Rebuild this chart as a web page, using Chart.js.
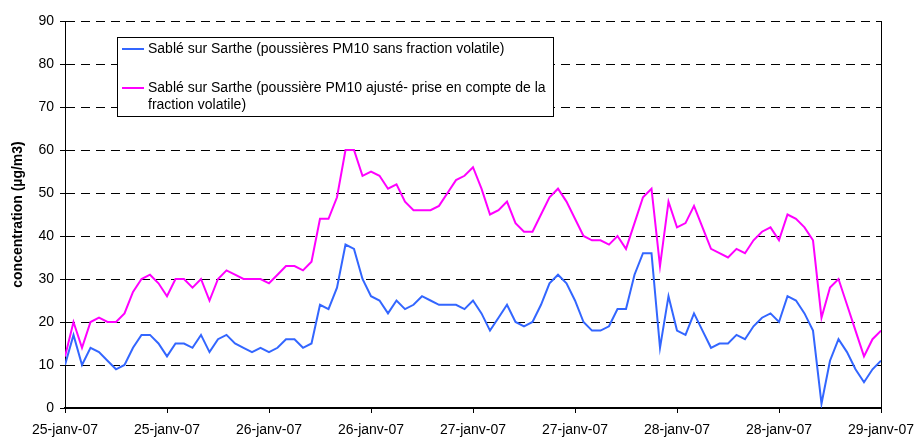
<!DOCTYPE html>
<html lang="fr">
<head>
	<meta charset="UTF-8">
	<title>Sablé sur Sarthe PM10</title>
	<script src="https://cdn.jsdelivr.net/npm/chart.js"></script>
	<style>
		html, body { margin: 0; padding: 0; background: #fff; }
		#wrap { width: 915px; height: 437px; }
	</style>
</head>
<body>
	<div id="wrap"><canvas id="myChart"></canvas></div>

	<script>
		// hourly values, 25-janv-07 00h -> 29-janv-07 00h
		const tickLabels = ['25-janv-07', '25-janv-07', '26-janv-07', '26-janv-07', '27-janv-07', '27-janv-07', '28-janv-07', '28-janv-07', '29-janv-07'];
		const hoursPerTick = 12;

		const labelSans = 'Sablé sur Sarthe (poussières PM10 sans fraction volatile)';
		const labelAjuste = 'Sablé sur Sarthe (poussière PM10 ajusté- prise en compte de la fraction volatile)';

		const pm10Sans = [10, 17, 10, 14, 13, 11, 9, 10, 14, 17, 17, 15, 12, 15, 15, 14, 17, 13, 16, 17, 15, 14, 13, 14,
			13, 14, 16, 16, 14, 15, 24, 23, 28, 38, 37, 30, 26, 25, 22, 25, 23, 24, 26, 25, 24, 24, 24, 23,
			25, 22, 18, 21, 24, 20, 19, 20, 24, 29, 31, 29, 25, 20, 18, 18, 19, 23, 23, 31, 36, 36, 14, 26,
			18, 17, 22, 18, 14, 15, 15, 17, 16, 19, 21, 22, 20, 26, 25, 22, 18, 1, 11, 16, 13, 9, 6, 9,
			11];

		const pm10Ajuste = [12, 20, 14, 20, 21, 20, 20, 22, 27, 30, 31, 29, 26, 30, 30, 28, 30, 25, 30, 32, 31, 30, 30, 30,
			29, 31, 33, 33, 32, 34, 44, 44, 49, 60, 60, 54, 55, 54, 51, 52, 48, 46, 46, 46, 47, 50, 53, 54,
			56, 51, 45, 46, 48, 43, 41, 41, 45, 49, 51, 48, 44, 40, 39, 39, 38, 40, 37, 43, 49, 51, 33, 48,
			42, 43, 47, 42, 37, 36, 35, 37, 36, 39, 41, 42, 39, 45, 44, 42, 39, 21, 28, 30, 24, 18, 12, 16,
			18];

		const toPoints = arr => arr.map((v, h) => ({ x: h, y: v }));

		const FONT = '"Liberation Sans", Arial, sans-serif';

		// boxed legend like the excel one, with wrapped text
		const boxLegend = {
			id: 'boxLegend',
			afterDraw(chart) {
				const c = chart.ctx;
				const area = chart.chartArea;
				const x0 = area.left + 52, y0 = area.top + 16, w = 436, h = 79;
				c.save();
				c.fillStyle = '#fff';
				c.fillRect(x0, y0, w, h);
				c.strokeStyle = '#000';
				c.lineWidth = 1;
				c.strokeRect(x0 + 0.5, y0 + 0.5, w, h);
				c.font = '14px ' + FONT;
				c.textBaseline = 'middle';
				c.fillStyle = '#000';
				let y = y0 + 12;
				chart.data.datasets.forEach(ds => {
					// wrap words
					const words = ds.label.split(' ');
					const lines = [];
					let line = '';
					words.forEach(wd => {
						const t = line ? line + ' ' + wd : wd;
						if (c.measureText(t).width > 405 && line) {
							lines.push(line);
							line = wd;
						} else {
							line = t;
						}
					});
					lines.push(line);
					c.strokeStyle = ds.borderColor;
					c.lineWidth = 2;
					c.beginPath();
					c.moveTo(x0 + 5, y);
					c.lineTo(x0 + 27, y);
					c.stroke();
					lines.forEach((l, i) => c.fillText(l, x0 + 31, y + i * 17));
					y += 39;
				});
				c.restore();
			}
		};

		// right side frame line
		const rightFrame = {
			id: 'rightFrame',
			beforeDatasetsDraw(chart) {
				const c = chart.ctx;
				const a = chart.chartArea;
				c.save();
				c.strokeStyle = '#000';
				c.lineWidth = 1;
				c.beginPath();
				c.moveTo(a.right + 0.5, a.top);
				c.lineTo(a.right + 0.5, a.bottom);
				c.stroke();
				c.restore();
			}
		};

		new Chart(document.getElementById('myChart'), {
			type: 'line',
			data: {
				datasets: [{
					label: labelSans,
					data: toPoints(pm10Sans),
					borderColor: '#3366ff',
					borderWidth: 2,
					pointRadius: 0,
					tension: 0
				}, {
					label: labelAjuste,
					data: toPoints(pm10Ajuste),
					borderColor: '#ff00ff',
					borderWidth: 2,
					pointRadius: 0,
					tension: 0
				}]
			},
			options: {
				responsive: true,
				maintainAspectRatio: false,
				animation: false,
				layout: { padding: { top: 21, right: 34, bottom: 0, left: 0 } },
				plugins: {
					legend: { display: false },
					tooltip: { enabled: false }
				},
				scales: {
					x: {
						type: 'linear',
						min: 0,
						max: (tickLabels.length - 1) * hoursPerTick,
						afterFit: s => {
							s.height = 29;
							// let the last label run off the edge like in excel
							s.paddingLeft = 0;
							s.paddingRight = 0;
						},
						afterBuildTicks: s => {
							s.ticks = tickLabels.map((t, i) => ({ value: i * hoursPerTick }));
						},
						ticks: {
							autoSkip: false,
							maxRotation: 0,
							padding: 9,
							color: '#000',
							font: { family: FONT, size: 14 },
							callback: v => tickLabels[v / hoursPerTick]
						},
						grid: { drawOnChartArea: false, tickLength: 5, tickColor: '#000' },
						border: { color: '#000', width: 2 }
					},
					y: {
						min: 0,
						max: 90,
						afterFit: s => { s.width = 65; },
						ticks: {
							stepSize: 10,
							padding: 6,
							color: '#000',
							font: { family: FONT, size: 14 }
						},
						title: {
							display: true,
							text: 'concentration (µg/m3)',
							color: '#000',
							font: { family: FONT, size: 14, weight: 'bold' },
							padding: { top: 10, bottom: 0 }
						},
						grid: { color: '#000', lineWidth: 1, tickLength: 5, tickColor: '#000' },
						border: { color: '#000', width: 1, dash: [9, 6] }
					}
				}
			},
			plugins: [rightFrame, boxLegend]
		});
	</script>
</body>
</html>
